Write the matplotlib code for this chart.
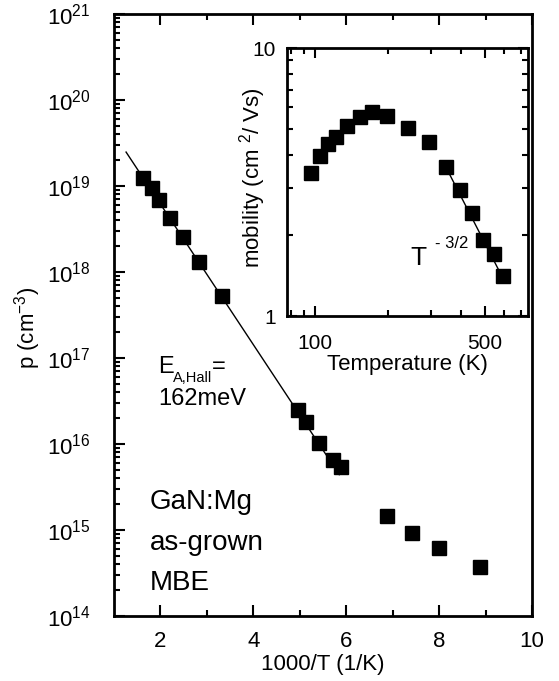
import matplotlib
matplotlib.use('Agg')
import matplotlib.pyplot as plt
from matplotlib.ticker import FixedLocator, FixedFormatter, LogLocator, NullFormatter
import numpy as np

plt.rcParams['font.family'] = 'Liberation Sans'
plt.rcParams['mathtext.fontset'] = 'custom'
plt.rcParams['mathtext.rm'] = 'Liberation Sans'
plt.rcParams['mathtext.it'] = 'Liberation Sans:italic'
plt.rcParams['mathtext.default'] = 'regular'

# main panel: hole concentration vs 1000/T
inv_T = [1.62, 1.82, 1.97, 2.20, 2.48, 2.83, 3.32, 4.96, 5.13, 5.41,
         5.71, 5.88, 6.87, 7.41, 7.99, 8.87]
p_conc = [1.24e19, 9.5e18, 6.9e18, 4.2e18, 2.55e18, 1.31e18, 5.25e17,
          2.48e16, 1.8e16, 1.02e16, 6.5e15, 5.4e15, 1.46e15, 9.2e14,
          6.2e14, 3.7e14]
fit_inv_T = [1.26, 5.85]
fit_p = [2.48e19, 4.4e15]

# inset: Hall mobility vs temperature
temp = [96.9, 104.8, 113.4, 121.8, 136, 153.2, 172.6, 198.2, 240.7, 295,
        345, 393, 441, 492, 544, 590]
mobility = [3.43, 3.95, 4.38, 4.66, 5.11, 5.51, 5.79, 5.59, 5.01, 4.47,
            3.60, 2.94, 2.42, 1.92, 1.70, 1.41]
fit_temp = [345, 600]
fit_mob = [3.6, 1.35]

W, H = 559, 681


def px(x, y):
    # pixel position -> figure fraction
    return x / W, 1 - y / H


fig = plt.figure(figsize=(W / 100, H / 100), dpi=100)

ax = fig.add_axes([114 / W, 1 - 616 / H, 418 / W, 602 / H])
ax.set_yscale('log')
ax.set_xlim(1, 10)
ax.set_ylim(1e14, 1e21)
ax.plot(fit_inv_T, fit_p, '-', color='k', lw=1.0)
ax.plot(inv_T, p_conc, 's', color='k', ms=9.5, mec='k')

ax.xaxis.set_major_locator(FixedLocator([2, 4, 6, 8, 10]))
ax.xaxis.set_minor_locator(FixedLocator([3, 5, 7, 9]))
ax.yaxis.set_major_locator(LogLocator(base=10, numticks=20))
ax.yaxis.set_minor_locator(LogLocator(base=10, subs=np.arange(2, 10), numticks=20))
ax.yaxis.set_minor_formatter(NullFormatter())
ax.tick_params(which='both', direction='in', top=True, right=False, width=1.5)
ax.tick_params(which='major', length=8, labelsize=16)
ax.tick_params(which='minor', length=4.5)
ax.tick_params(axis='y', which='major', pad=17)
ax.tick_params(axis='x', which='major', pad=11)
for s in ax.spines.values():
    s.set_linewidth(2)

ax.set_xlabel('1000/T (1/K)', fontsize=16, labelpad=1)
ax.set_ylabel('p (cm$^{-3}$)', fontsize=16)
ax.yaxis.set_label_coords(-0.17, 0.478)

fig.text(*px(158, 373), 'E', fontsize=17, va='baseline')
fig.text(*px(173, 382), 'A,Hall', fontsize=10.5, va='baseline')
fig.text(*px(212, 373), '=', fontsize=17, va='baseline')
fig.text(*px(158, 405), '162meV', fontsize=17, va='baseline')

fig.text(*px(150, 509), 'GaN:Mg', fontsize=20, va='baseline')
fig.text(*px(150, 550), 'as-grown', fontsize=20, va='baseline')
fig.text(*px(150, 590), 'MBE', fontsize=20, va='baseline')

# inset
axin = fig.add_axes([287 / W, 1 - 316 / H, 241 / W, 268 / H])
axin.set_facecolor('white')
axin.set_xscale('log')
axin.set_yscale('log')
axin.set_xlim(77, 750)
axin.set_ylim(1, 10)
axin.plot(fit_temp, fit_mob, '-', color='k', lw=1.0)
axin.plot(temp, mobility, 's', color='k', ms=9.5, mec='k')

axin.xaxis.set_major_locator(FixedLocator([100, 500]))
axin.xaxis.set_major_formatter(FixedFormatter(['100', '500']))
axin.xaxis.set_minor_locator(FixedLocator([80, 90, 200, 300, 400, 600, 700]))
axin.xaxis.set_minor_formatter(NullFormatter())
axin.yaxis.set_major_locator(FixedLocator([1, 10]))
axin.yaxis.set_major_formatter(FixedFormatter(['1', '10']))
axin.yaxis.set_minor_locator(FixedLocator([2, 3, 4, 5, 6, 7, 8, 9]))
axin.yaxis.set_minor_formatter(NullFormatter())
axin.tick_params(which='both', direction='in', top=True, right=True, width=1.5)
axin.tick_params(which='major', length=7, labelsize=15)
axin.tick_params(which='minor', length=4.5)
axin.tick_params(axis='x', which='major', pad=13)
axin.tick_params(axis='y', which='major', pad=8)
for s in axin.spines.values():
    s.set_linewidth(2)

axin.set_xlabel('Temperature (K)', fontsize=16, labelpad=1)
axin.set_ylabel('mobility (cm $^{2}$/ Vs)', fontsize=16)
axin.yaxis.set_label_coords(-0.079, 0.515)

fig.text(*px(410, 265), 'T', fontsize=19, va='baseline')
fig.text(*px(435, 248), '- 3/2', fontsize=12, va='baseline')

fig.savefig('out.png', dpi=100)
